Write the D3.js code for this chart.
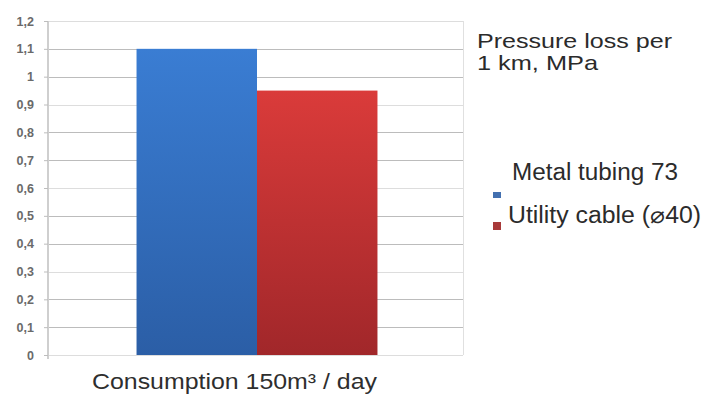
<!DOCTYPE html>
<html><head><meta charset="utf-8">
<script src="https://cdn.jsdelivr.net/npm/d3@7"></script>
<style>body{margin:0;background:#fff}svg{display:block}</style>
</head><body>
<svg id="c" width="704" height="394"></svg>
<script>
const categories = ["Consumption 150m³ / day"];
const seriesNames = ["Metal tubing 73", "Utility cable (⌀40)"];
const seriesValues = [1.1, 0.95];
const yTicks = [0,0.1,0.2,0.3,0.4,0.5,0.6,0.7,0.8,0.9,1,1.1,1.2];
const yTickLabels = ["0","0,1","0,2","0,3","0,4","0,5","0,6","0,7","0,8","0,9","1","1,1","1,2"];
const legendTitle = ["Pressure loss per", "1 km, MPa"];

const svg = d3.select("#c");
const W=704,H=394;
const m={l:48,r:241,t:21,b:39};
const FONT="Liberation Sans, Arial, sans-serif";
const x = d3.scaleBand().domain(categories).range([m.l+3, W-m.r]).paddingInner(0).paddingOuter(0.355);
const y = d3.scaleLinear().domain([0,1.2]).range([H-m.b, m.t]);
const xs = d3.scaleBand().domain(seriesNames).range([0, x.bandwidth()]);

const defs = svg.append("defs");
const grads = [["gb","#3a7dd3","#2b5ea6"],["gr","#da3b3a","#a1272a"]];
grads.forEach(([id,a,b])=>{
  const g=defs.append("linearGradient").attr("id",id).attr("x1",0).attr("y1",0).attr("x2",0).attr("y2",1);
  g.append("stop").attr("offset","0%").attr("stop-color",a);
  g.append("stop").attr("offset","100%").attr("stop-color",b);
});

// grid
svg.append("g").selectAll("line").data(yTicks).join("line")
  .attr("x1",m.l).attr("x2",W-m.r).attr("y1",d=>Math.round(y(d))+0.5).attr("y2",d=>Math.round(y(d))+0.5)
  .attr("stroke",(d,i)=> (i%3===0? "#cfcfcf":"#a0a0a0")).attr("stroke-width",1).attr("stroke-opacity",0.7);
svg.append("line").attr("x1",W-m.r+0.5).attr("x2",W-m.r+0.5).attr("y1",y(1.2)).attr("y2",y(0)).attr("stroke","#e0e0e0");

// y axis
const ya = d3.axisLeft(y).tickValues(yTicks).tickFormat((d,i)=>yTickLabels[i]).tickSize(4).tickPadding(10);
const yg = svg.append("g").attr("transform",`translate(${m.l},0)`).call(ya);
yg.select(".domain").attr("stroke","#cfcfcf").attr("stroke-width",2).attr("d",`M0,${y(1.2)}V${y(0)+4}`);
yg.selectAll(".tick line").attr("stroke","#bdbdbd");
yg.selectAll("text").attr("fill","#6a6a6a").style("font-family",FONT).style("font-size","12.5px").style("font-weight","bold");

// bars
const fills=["url(#gb)","url(#gr)"];
svg.append("g").selectAll("rect").data(seriesValues).join("rect")
  .attr("x",(d,i)=>x(categories[0])+xs(seriesNames[i]))
  .attr("width",xs.bandwidth())
  .attr("y",d=>y(d)).attr("height",d=>y(0)-y(d))
  .attr("fill",(d,i)=>fills[i]);

// x label
svg.append("text").attr("x",92).attr("y",389)
  .attr("textLength",285).attr("lengthAdjust","spacingAndGlyphs").attr("fill","#2e2e2e")
  .style("font-family",FONT).style("font-size","22px")
  .text(categories[0]);

// legend title
const ltLens=[195,121];
legendTitle.forEach((t,i)=>svg.append("text").attr("x",477).attr("y",48+i*22)
  .attr("textLength",ltLens[i]).attr("lengthAdjust","spacingAndGlyphs").attr("fill","#2b2b2b")
  .style("font-family",FONT).style("font-size","21px").text(t));

// legend items
const leg=[{t:seriesNames[0],tx:512,ty:180,len:166,my:192,c:"#4370b0",h:6},{t:seriesNames[1],tx:508,ty:223,len:193,my:222,c:"#a83a3a",h:8}];
leg.forEach((d,i)=>{
  svg.append("rect").attr("x",493).attr("y",d.my).attr("width",8).attr("height",d.h).attr("fill",d.c);
  svg.append("text").attr("x",d.tx).attr("y",d.ty).attr("fill","#2b2b2b")
    .attr("textLength",d.len).attr("lengthAdjust","spacingAndGlyphs")
    .style("font-family",FONT).style("font-size","23px").text(d.t);
});
</script>
</body></html>
